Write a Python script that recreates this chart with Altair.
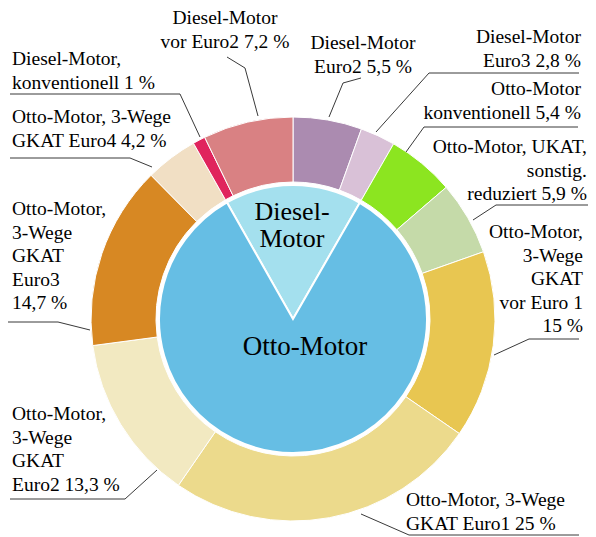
import math
import altair as alt
import pandas as pd

# ---------------- data ----------------
# outer ring, clockwise from 12 o'clock
segments = [
    "Diesel-Motor Euro2", "Diesel-Motor Euro3", "Otto-Motor konventionell",
    "Otto-Motor UKAT sonstig. reduziert", "Otto-Motor 3-Wege GKAT vor Euro1",
    "Otto-Motor 3-Wege GKAT Euro1", "Otto-Motor 3-Wege GKAT Euro2",
    "Otto-Motor 3-Wege GKAT Euro3", "Otto-Motor 3-Wege GKAT Euro4",
    "Diesel-Motor konventionell", "Diesel-Motor vor Euro2",
]
shares = [5.5, 2.8, 5.4, 5.9, 15, 25, 13.3, 14.7, 4.2, 1, 7.2]
seg_colors = [
    "#ab8bb0", "#d9c1d7", "#8ce520", "#c5daa9", "#e8c651", "#ecda8c",
    "#f2e9c1", "#d78823", "#f1dfc4", "#e0245d", "#d98183",
]
seg_labels = [
    "Diesel-Motor\nEuro2 5,5 %",
    "Diesel-Motor\nEuro3 2,8 %",
    "Otto-Motor\nkonventionell 5,4 %",
    "Otto-Motor, UKAT,\nsonstig.\nreduziert 5,9 %",
    "Otto-Motor,\n3-Wege\nGKAT\nvor Euro 1\n15 %",
    "Otto-Motor, 3-Wege\nGKAT Euro1 25 %",
    "Otto-Motor,\n3-Wege\nGKAT\nEuro2 13,3 %",
    "Otto-Motor,\n3-Wege\nGKAT\nEuro3\n14,7 %",
    "Otto-Motor, 3-Wege\nGKAT Euro4 4,2 %",
    "Diesel-Motor,\nkonventionell 1 %",
    "Diesel-Motor\nvor Euro2 7,2 %",
]

# inner pie
engines = ["Diesel-Motor", "Otto-Motor"]
engine_shares = [16.5, 83.5]
engine_colors = ["#a4e0ee", "#66bee4"]
engine_labels = ["Diesel-\nMotor", "Otto-Motor"]

# ---------------- layout (annotation placement, chart pixels) ----------------
OFF = 8  # page margin
CX, CY = 293 - OFF, 319 - OFF
R_OUT, R_IN, R_PIE = 202, 137, 134
FONT = "Liberation Serif"

# per label: align, text anchor (first baseline), leader polyline
label_layout = [
    ("center", (363, 49), [(361, 78), (343, 83), (329, 117)]),
    ("right", (581, 43), [(579, 73), (429, 73), (376, 132)]),
    ("right", (581, 95), [(578, 127), (424, 127), (406, 152)]),
    ("right", (587, 153), [(588, 205), (496, 205), (473, 220)]),
    ("right", (583, 238), [(579, 339), (529, 339), (494, 355)]),
    ("left", (406, 506), [(579, 535), (409, 535), (361, 514)]),
    ("left", (12, 420), [(10, 499), (125, 499), (157, 470)]),
    ("left", (12, 215), [(8, 322), (58, 322), (90, 330)]),
    ("left", (12, 123), [(10, 158), (130, 158), (152, 167)]),
    ("left", (12, 65), [(10, 94), (180, 94), (200, 137)]),
    ("center", (225, 24), [(227, 57), (245, 68), (258, 116)]),
]
engine_layout = [(292, 220, 26), (305, 355, 27)]

# ---------------- tables ----------------
ring_df = pd.DataFrame({
    "seg": segments, "share": shares, "idx": list(range(len(segments))),
})
pie_df = pd.DataFrame({
    "engine": engines, "eshare": engine_shares, "eidx": [0, 1],
})

text_rows, line_rows = [], []
for i, (lab, (al, (tx, ty), pts)) in enumerate(zip(seg_labels, label_layout)):
    text_rows.append({"label": lab, "align": al, "tx": tx - OFF, "ty": ty - OFF})
    for k, (px, py) in enumerate(pts):
        line_rows.append({"id": i, "k": k, "px": px - OFF, "py": py - OFF})
text_df = pd.DataFrame(text_rows)
line_df = pd.DataFrame(line_rows)

# inner pie rotated so that the Diesel wedge straddles 12 o'clock
left_diesel = shares[segments.index("Diesel-Motor konventionell")] + \
    shares[segments.index("Diesel-Motor vor Euro2")]
start = 2 * math.pi - 2 * math.pi * left_diesel / 100.0

# ---------------- chart ----------------
ring = alt.Chart(ring_df).mark_arc(
    radius=R_OUT, radius2=R_IN, stroke="white", strokeWidth=1
).encode(
    theta=alt.Theta("share:Q", stack=True),
    order=alt.Order("idx:Q"),
    color=alt.Color("seg:N", scale=alt.Scale(domain=segments, range=seg_colors), legend=None),
    x=alt.value(CX), y=alt.value(CY),
)

pie = alt.Chart(pie_df).mark_arc(
    radius=R_PIE, stroke="white", strokeWidth=2
).encode(
    theta=alt.Theta("eshare:Q", stack=True,
                    scale=alt.Scale(range=[start, start + 2 * math.pi])),
    order=alt.Order("eidx:Q"),
    color=alt.Color("engine:N", scale=alt.Scale(domain=engines, range=engine_colors), legend=None),
    x=alt.value(CX), y=alt.value(CY),
)

leaders = alt.Chart(line_df).mark_line(color="#222222", strokeWidth=0.9).encode(
    x=alt.X("px:Q", scale=None, axis=None),
    y=alt.Y("py:Q", scale=None, axis=None),
    detail="id:N",
    order="k:Q",
)

texts = []
for al in ["left", "center", "right"]:
    texts.append(
        alt.Chart(text_df).transform_filter(alt.datum.align == al).mark_text(
            align=al, baseline="alphabetic", font=FONT, fontSize=19.5,
            lineHeight=23.5, lineBreak="\n", color="black",
        ).encode(
            x=alt.X("tx:Q", scale=None, axis=None),
            y=alt.Y("ty:Q", scale=None, axis=None),
            text="label:N",
        )
    )

eng_text = []
for lab, (ex, ey, fs) in zip(engine_labels, engine_layout):
    eng_text.append(
        alt.Chart(pd.DataFrame({"t": [lab]})).mark_text(
            align="center", baseline="alphabetic", font=FONT, fontSize=fs,
            lineHeight=27, lineBreak="\n", color="black",
        ).encode(
            x=alt.value(ex - OFF), y=alt.value(ey - OFF), text="t:N",
        )
    )

chart = alt.layer(ring, pie, leaders, *texts, *eng_text).resolve_scale(
    theta="independent", color="independent"
).properties(
    width=580, height=529, padding=0,
    autosize=alt.AutoSizeParams(type="none"),
).configure_view(stroke=None)

chart.save("out.html", embed_options={"renderer": "svg", "actions": False})
